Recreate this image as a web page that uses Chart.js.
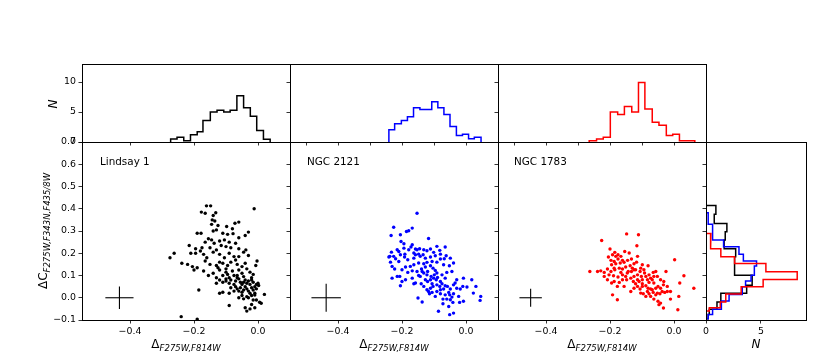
<!DOCTYPE html>
<html><head><meta charset="utf-8">
<script src="https://cdn.jsdelivr.net/npm/chart.js@4.4.1/dist/chart.umd.min.js"></script>
<style>
html,body{margin:0;padding:0;background:#fff;}
#wrap{position:relative;width:830px;height:356px;overflow:hidden;font-family:"DejaVu Sans",sans-serif;background:#fff;}
canvas{position:absolute;left:0;top:0;}
.lab{position:absolute;white-space:nowrap;color:#000;font-size:12px;line-height:12px;}
.lab sub{font-style:italic;font-size:8.5px;vertical-align:-3px;line-height:0;}
.bx{transform:translateX(-50%);}
.rot{transform:translate(-50%,-50%) rotate(-90deg);}
.name{position:absolute;font-size:10.4px;color:#000;transform:translateY(-50%);white-space:nowrap;}
</style></head>
<body><div id="wrap">
<div class="lab rot" style="left:43px;top:231px;">ΔC<sub>F275W,F343N,F435/8W</sub></div>
<div class="lab rot" style="left:53px;top:104px;font-style:italic;">N</div>
<div class="lab bx" style="left:186px;top:338px;">Δ<sub>F275W,F814W</sub></div>
<div class="lab bx" style="left:394px;top:338px;">Δ<sub>F275W,F814W</sub></div>
<div class="lab bx" style="left:602px;top:338px;">Δ<sub>F275W,F814W</sub></div>
<div class="lab bx" style="left:756px;top:338px;font-style:italic;">N</div>
<div class="name" style="left:100px;top:161px;">Lindsay 1</div>
<div class="name" style="left:307px;top:161px;">NGC 2121</div>
<div class="name" style="left:514px;top:161px;">NGC 1783</div>
</div>
<script>
// ---------- data ----------
const lindsayX = [-0.161,-0.148,-0.012,-0.177,-0.165,-0.132,-0.140,-0.143,-0.135,-0.060,-0.072,-0.145,-0.125,-0.098,-0.080,-0.190,-0.178,-0.140,-0.130,-0.110,-0.095,-0.078,-0.040,-0.060,-0.030,-0.155,-0.145,-0.120,-0.105,-0.090,-0.070,-0.165,-0.137,-0.215,-0.175,-0.130,-0.100,-0.085,-0.115,-0.060,-0.038,-0.045,-0.150,-0.195,-0.275,-0.262,-0.210,-0.195,-0.170,-0.160,-0.120,-0.090,-0.075,-0.030,-0.060,-0.105,-0.140,-0.180,-0.238,-0.220,-0.205,-0.190,-0.165,-0.150,-0.130,-0.120,-0.110,-0.095,-0.085,-0.065,-0.050,-0.040,-0.003,-0.007,-0.125,-0.070,-0.100,-0.200,-0.170,-0.155,-0.140,-0.120,-0.100,-0.095,-0.080,-0.075,-0.060,-0.050,-0.045,-0.035,-0.025,-0.015,-0.090,-0.110,-0.065,-0.130,-0.020,-0.120,-0.110,-0.100,-0.090,-0.085,-0.070,-0.060,-0.055,-0.050,-0.040,-0.035,-0.030,-0.025,-0.015,-0.005,0.000,-0.010,-0.100,-0.130,-0.075,-0.065,-0.045,-0.020,0.002,-0.185,-0.120,-0.110,-0.090,-0.085,-0.065,-0.060,-0.055,-0.050,-0.045,-0.040,-0.030,-0.025,-0.020,-0.015,-0.010,-0.005,-0.070,-0.035,-0.075,0.020,-0.035,-0.020,-0.045,-0.060,-0.015,-0.010,-0.030,-0.050,-0.005,0.005,-0.090,-0.040,-0.035,-0.025,-0.010,0.010,-0.020,-0.240,-0.190];
const lindsayY = [0.413,0.413,0.400,0.385,0.380,0.382,0.370,0.350,0.345,0.340,0.335,0.330,0.325,0.320,0.310,0.290,0.290,0.300,0.305,0.290,0.285,0.288,0.280,0.270,0.295,0.265,0.260,0.255,0.260,0.250,0.245,0.250,0.245,0.235,0.225,0.215,0.230,0.225,0.235,0.220,0.215,0.205,0.225,0.220,0.180,0.200,0.200,0.200,0.195,0.180,0.195,0.200,0.185,0.190,0.185,0.180,0.205,0.210,0.155,0.150,0.140,0.135,0.165,0.150,0.145,0.160,0.155,0.145,0.160,0.150,0.140,0.155,0.165,0.145,0.135,0.170,0.130,0.125,0.120,0.100,0.110,0.125,0.115,0.105,0.120,0.100,0.125,0.110,0.095,0.130,0.115,0.105,0.090,0.100,0.100,0.090,0.090,0.080,0.070,0.075,0.065,0.080,0.075,0.085,0.070,0.060,0.080,0.065,0.075,0.060,0.070,0.060,0.065,0.050,0.085,0.065,0.060,0.090,0.070,0.080,0.055,0.035,0.020,0.025,0.020,0.045,0.040,0.030,0.045,0.025,0.035,0.050,0.030,0.020,0.045,0.035,0.020,0.040,0.050,0.040,0.030,0.015,0.005,0.010,-0.005,0.000,-0.010,0.012,0.000,0.010,-0.010,-0.020,-0.035,-0.045,-0.060,-0.050,-0.045,-0.025,-0.030,-0.085,-0.096];

const ngc2121X = [-0.153,-0.226,-0.168,-0.186,-0.179,-0.234,-0.205,-0.203,-0.117,-0.194,-0.168,-0.145,-0.153,-0.132,-0.122,-0.111,-0.091,-0.065,-0.082,-0.163,-0.158,-0.148,-0.194,-0.215,-0.233,-0.238,-0.220,-0.205,-0.192,-0.182,-0.163,-0.143,-0.127,-0.111,-0.096,-0.080,-0.062,-0.039,-0.052,-0.070,-0.091,-0.106,-0.122,-0.132,-0.148,-0.163,-0.174,-0.189,-0.200,-0.210,-0.231,-0.223,-0.182,-0.168,-0.153,-0.139,-0.127,-0.120,-0.103,-0.096,-0.091,-0.099,-0.109,-0.122,-0.132,-0.143,-0.158,-0.163,-0.140,-0.127,-0.120,-0.111,-0.101,-0.089,-0.075,-0.060,-0.044,-0.065,-0.080,-0.075,-0.091,-0.103,-0.111,-0.117,-0.106,-0.091,-0.080,-0.070,-0.058,-0.049,-0.039,-0.029,-0.034,-0.029,-0.018,-0.008,-0.010,0.003,0.018,0.031,0.023,0.046,0.044,-0.008,-0.023,-0.039,-0.051,-0.065,-0.080,-0.072,-0.060,-0.049,-0.041,-0.072,-0.054,-0.086,-0.051,-0.039,-0.150,-0.137,-0.205,-0.207,-0.215,-0.231,-0.200,-0.236,-0.241,-0.226,-0.210,-0.191,-0.179,-0.172,-0.158,-0.134,-0.101,-0.080,-0.068,-0.049,-0.111,-0.137,-0.148,-0.189,-0.168,-0.106,-0.093,-0.082,-0.065,-0.054,-0.044,-0.020,-0.096,-0.114,-0.122,-0.132];
const ngc2121Y = [0.380,0.317,0.313,0.298,0.301,0.280,0.283,0.253,0.266,0.243,0.238,0.220,0.216,0.216,0.211,0.219,0.231,0.228,0.213,0.201,0.193,0.196,0.223,0.216,0.205,0.186,0.175,0.193,0.183,0.171,0.178,0.186,0.178,0.183,0.189,0.196,0.189,0.156,0.144,0.148,0.160,0.163,0.159,0.153,0.156,0.148,0.141,0.138,0.126,0.163,0.141,0.129,0.114,0.121,0.118,0.129,0.138,0.118,0.133,0.123,0.111,0.103,0.096,0.103,0.111,0.096,0.066,0.063,0.063,0.081,0.073,0.081,0.088,0.091,0.103,0.114,0.118,0.088,0.073,0.063,0.058,0.051,0.043,0.028,0.024,0.028,0.036,0.039,0.051,0.039,0.058,0.081,0.066,0.043,0.039,0.088,0.051,0.048,0.081,0.051,0.021,0.006,-0.012,-0.016,0.006,0.018,0.013,0.013,0.018,-0.006,-0.006,-0.009,-0.021,-0.027,-0.039,-0.061,-0.076,-0.069,-0.001,-0.019,0.054,0.096,0.096,0.088,0.073,0.160,0.183,0.186,0.208,0.196,0.216,0.228,0.219,0.193,0.204,0.174,0.175,0.178,0.144,0.118,0.100,0.081,0.088,0.063,0.081,0.051,0.054,0.024,0.003,-0.021,0.006,0.018,0.036,0.051];

const ngc1783X = [-0.148,-0.111,-0.226,-0.116,-0.200,-0.154,-0.140,-0.192,-0.182,-0.205,-0.166,-0.175,-0.187,-0.195,-0.182,-0.168,-0.156,-0.145,-0.133,-0.114,-0.125,-0.137,-0.151,-0.161,-0.171,-0.185,-0.197,-0.208,-0.229,-0.239,-0.263,-0.218,-0.203,-0.189,-0.175,-0.161,-0.146,-0.133,-0.120,-0.104,-0.094,-0.081,-0.099,-0.106,-0.114,-0.125,-0.135,-0.148,-0.161,-0.171,-0.187,-0.127,-0.120,-0.109,-0.099,-0.088,-0.078,-0.065,-0.057,-0.052,-0.068,-0.078,-0.088,-0.099,-0.106,-0.114,-0.125,-0.135,-0.081,-0.073,-0.063,-0.050,-0.042,-0.033,-0.025,-0.021,-0.029,-0.037,-0.044,-0.057,-0.065,-0.078,-0.088,-0.096,-0.104,-0.073,-0.063,-0.050,-0.042,-0.047,-0.033,-0.011,0.015,0.012,0.002,0.031,0.018,0.062,-0.177,-0.192,-0.156,-0.177,-0.195,-0.208,-0.218,-0.143,-0.130,-0.117,-0.102,-0.092,-0.151,-0.166,-0.187,-0.197,-0.185,-0.175,-0.161,-0.125,-0.114,-0.099,-0.083,-0.073,-0.057,-0.083,-0.011,-0.021,-0.032,-0.042,-0.052,-0.068,-0.063];
const ngc1783Y = [0.287,0.283,0.257,0.234,0.219,0.208,0.201,0.193,0.186,0.183,0.186,0.174,0.163,0.148,0.153,0.156,0.159,0.168,0.174,0.186,0.153,0.144,0.138,0.129,0.133,0.126,0.118,0.129,0.121,0.118,0.118,0.096,0.103,0.099,0.093,0.103,0.111,0.118,0.126,0.133,0.126,0.144,0.148,0.118,0.103,0.096,0.088,0.081,0.081,0.069,0.073,0.073,0.063,0.073,0.081,0.096,0.103,0.114,0.118,0.096,0.081,0.069,0.054,0.051,0.039,0.051,0.043,0.028,0.043,0.039,0.066,0.051,0.081,0.058,0.118,0.028,0.024,0.028,0.018,0.013,0.024,0.018,0.006,0.018,0.021,0.006,-0.006,-0.016,-0.024,-0.031,-0.046,-0.006,0.006,-0.054,0.171,0.099,0.066,0.043,-0.009,0.013,0.051,0.051,0.066,0.081,0.114,0.118,0.133,0.160,0.096,0.111,0.096,0.114,0.133,0.168,0.204,0.193,0.168,0.126,0.081,0.063,0.081,0.088,0.043,0.028,0.028,0.051,0.073,0.043,0.021,0.036,0.096];

// error crosses: centre x, centre y, half-length x, half-length y
const crossLindsay = [-0.433, 0.0, 0.044, 0.051];
const cross2121    = [-0.437, 0.0, 0.046, 0.063];
const cross1783    = [-0.448, 0.0, 0.035, 0.041];

// top histograms (x bin edges, N)
const blackHistEdges = [-0.273,-0.253,-0.232,-0.211,-0.190,-0.172,-0.149,-0.128,-0.107,-0.087,-0.066,-0.045,-0.024,-0.004,0.017,0.038];
const blackHistCounts = [0.5,0.8,0.2,1.2,1.7,3.6,5.0,5.3,5.0,5.3,7.7,5.7,4.3,1.9,0.45];
const blueHistEdges = [-0.241,-0.223,-0.202,-0.183,-0.164,-0.144,-0.125,-0.107,-0.088,-0.069,-0.050,-0.030,-0.011,0.008,0.026,0.047];
const blueHistCounts = [2.05,3.05,3.6,4.2,5.7,5.4,5.4,6.7,5.7,4.6,2.6,1.1,1.3,0.55,0.8];
const redHistEdges = [-0.265,-0.242,-0.221,-0.199,-0.176,-0.155,-0.132,-0.111,-0.091,-0.068,-0.047,-0.024,-0.004,0.017,0.042,0.065];
const redHistCounts = [0.2,0.5,0.8,5.0,4.6,5.9,5.0,9.9,5.5,3.3,2.8,1.1,1.3,0.2,0.2];

// side histograms (y bin edges, N)
const blackSideEdges = [0.415,0.375,0.334,0.297,0.259,0.220,0.184,0.146,0.101,0.056,0.020,-0.019,-0.052,-0.075,-0.094];
const blackSideCounts = [0.9,0.75,1.9,1.75,1.65,2.7,2.6,2.6,4.2,3.7,1.35,1.0,0.3,0.2];
const blueSideEdges = [0.382,0.330,0.259,0.229,0.195,0.165,0.143,0.101,0.075,0.050,0.015,-0.015,-0.052,-0.075,-0.094];
const blueSideCounts = [0.2,0.6,1.6,3.0,3.4,4.6,4.4,4.1,3.6,3.3,2.1,1.4,0.6,0.2];
const redSideEdges = [0.289,0.262,0.220,0.184,0.154,0.117,0.082,0.049,0.017,-0.019,-0.045,-0.060];
const redSideCounts = [0.45,0.4,1.35,2.6,5.45,8.3,5.2,3.2,1.8,1.3,0.3];

// ticks
const scatterYTicks = [-0.1,0.0,0.1,0.2,0.3,0.4,0.5,0.6,0.7];
const scatterXTicks = [-0.4,-0.2,0.0];
const topHistXTicksLeft = [-0.4,-0.2,0.0];
const topHistXTicksOther = [-0.5,-0.4,-0.3,-0.2,-0.1,0.0];
const topHistYTicks = [0,5,10];
const sideHistXTicks = [0,5];

// ---------- rendering ----------
const W = 830, H = 356;
const AXW = 40, AXH = 18;   // fixed axis box sizes (labels are clipped to these boxes)
const wrap = document.getElementById('wrap');
const firstLab = wrap.firstChild;
function mkCtx(){
  const c = document.createElement('canvas');
  c.width = W; c.height = H; c.style.width = W+'px'; c.style.height = H+'px';
  wrap.insertBefore(c, firstLab);
  return c.getContext('2d');
}
function fmt1(v){ const r = Math.round(v*10)/10; return (r < 0 ? '\u2212' : '') + Math.abs(r).toFixed(1); }
function fmtInt(v){ return String(Math.round(v)); }
function noLab(){ return ''; }

function axis(pos, min, max, ticks, labFn){
  const vertical = (pos === 'left' || pos === 'right');
  return {
    type: 'linear', position: pos, min: min, max: max,
    afterBuildTicks: s => { s.ticks = ticks.map(v => ({value: v})); },
    afterFit: s => { if (vertical) s.width = AXW; else s.height = AXH; },
    ticks: { callback: v => labFn(v), color: '#000', font: {family: 'DejaVu Sans', size: 9.4},
             padding: 2.5, maxRotation: 0, minRotation: 0, autoSkip: false },
    grid: { display: true, drawOnChartArea: false, drawTicks: true, tickLength: 3.5, color: '#000', lineWidth: 0.8 },
    border: { display: false }
  };
}
const frame = {
  id: 'frame',
  afterDraw(ch){
    const a = ch.chartArea, c = ch.ctx;
    c.save(); c.strokeStyle = '#000'; c.lineWidth = 1;
    c.strokeRect(Math.round(a.left)+0.5, Math.round(a.top)+0.5, Math.round(a.right)-Math.round(a.left), Math.round(a.bottom)-Math.round(a.top));
    c.restore();
  }
};
function baseOpts(area, xAx, yAx){
  return {
    responsive: false, animation: false, devicePixelRatio: 1,
    layout: { padding: { left: area[0] - AXW, top: area[1], right: W - area[2], bottom: H - area[3] - AXH } },
    plugins: { legend: {display: false}, tooltip: {enabled: false}, title: {display: false} },
    scales: { x: xAx, y: yAx },
    elements: { line: { tension: 0 } }
  };
}
function pts(xs, ys){ return xs.map((x, i) => ({x: x, y: ys[i]})); }
function stepsTop(e, n){
  const p = [{x: e[0], y: 0}];
  for (let i = 0; i < n.length; i++){ p.push({x: e[i], y: n[i]}); p.push({x: e[i+1], y: n[i]}); }
  p.push({x: e[e.length-1], y: 0});
  return p;
}
function stepsSide(e, n){
  const p = [{x: 0, y: e[0]}];
  for (let i = 0; i < n.length; i++){ p.push({x: n[i], y: e[i]}); p.push({x: n[i], y: e[i+1]}); }
  p.push({x: 0, y: e[e.length-1]});
  return p;
}
function lineDs(data, color, w, order){
  return { data: data, showLine: true, borderColor: color, borderWidth: w, pointRadius: 0,
           backgroundColor: 'transparent', fill: false, borderJoinStyle: 'miter', order: order || 0 };
}
function crossDs(cr){
  return [
    lineDs([{x: cr[0]-cr[2], y: cr[1]}, {x: cr[0]+cr[2], y: cr[1]}], '#000', 1.1),
    lineDs([{x: cr[0], y: cr[1]-cr[3]}, {x: cr[0], y: cr[1]+cr[3]}], '#000', 1.1)
  ];
}

const cols = [82, 290, 498, 706, 806];
const topArea = [64, 142];
const mainArea = [142, 320];

const panels = [
  {xs: lindsayX, ys: lindsayY, color: '#000000', cross: crossLindsay, he: blackHistEdges, hn: blackHistCounts, hx: topHistXTicksLeft, first: true},
  {xs: ngc2121X, ys: ngc2121Y, color: '#0000ff', cross: cross2121, he: blueHistEdges, hn: blueHistCounts, hx: topHistXTicksOther, first: false},
  {xs: ngc1783X, ys: ngc1783Y, color: '#ff0000', cross: cross1783, he: redHistEdges, hn: redHistCounts, hx: topHistXTicksOther, first: false}
];

panels.forEach((p, k) => {
  const L = cols[k], R = cols[k+1];
  new Chart(mkCtx(), {
    type: 'scatter',
    data: { datasets: [ lineDs(stepsTop(p.he, p.hn), p.color, 1.5) ] },
    options: baseOpts([L, topArea[0], R, topArea[1]],
      axis('bottom', -0.55, 0.1, p.hx, noLab),
      axis('left', 0, 13, topHistYTicks, p.first ? fmtInt : noLab)),
    plugins: [frame]
  });
  new Chart(mkCtx(), {
    type: 'scatter',
    data: { datasets: [
      { data: pts(p.xs, p.ys), pointRadius: 1.7, pointBorderWidth: 0, pointBackgroundColor: p.color, backgroundColor: p.color, showLine: false }
    ].concat(crossDs(p.cross)) },
    options: baseOpts([L, mainArea[0], R, mainArea[1]],
      axis('bottom', -0.55, 0.1, scatterXTicks, fmt1),
      axis('left', -0.1, 0.7, scatterYTicks, p.first ? fmt1 : noLab)),
    plugins: [frame]
  });
});

new Chart(mkCtx(), {
  type: 'scatter',
  data: { datasets: [
    lineDs(stepsSide(redSideEdges, redSideCounts), '#ff0000', 1.5, 0),
    lineDs(stepsSide(blueSideEdges, blueSideCounts), '#0000ff', 1.5, 1),
    lineDs(stepsSide(blackSideEdges, blackSideCounts), '#000000', 1.5, 2)
  ] },
  options: baseOpts([cols[3], mainArea[0], cols[4], mainArea[1]],
    axis('bottom', 0, 9.1, sideHistXTicks, fmtInt),
    axis('left', -0.1, 0.7, scatterYTicks, noLab)),
  plugins: [frame]
});
</script>
</body></html>
